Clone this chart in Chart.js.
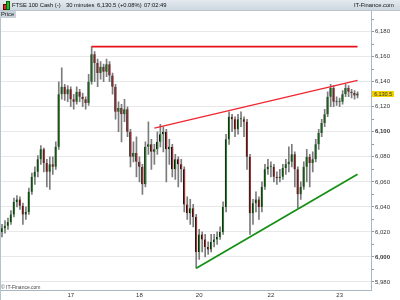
<!DOCTYPE html>
<html>
<head>
<meta charset="utf-8">
<script src="https://cdn.jsdelivr.net/npm/chart.js@4/dist/chart.umd.min.js"></script>
<style>
  html, body { margin: 0; padding: 0; background: #fff; }
  #wrap { position: relative; width: 400px; height: 300px; overflow: hidden; font-family: "Liberation Sans", Arial, sans-serif; }
  #chart { position: absolute; left: 0; top: 0; }
  #head { position: absolute; left: 0; top: 0; width: 400px; height: 10px; background: linear-gradient(#e4eaef, #cdd7df); border-bottom: 1px solid #b9c6d0; }
  #head span { position: absolute; top: 1px; font-size: 5.8px; line-height: 8px; color: #111; white-space: nowrap; }
  #price { position: absolute; left: 0; top: 11px; height: 7px; padding: 0 2px 0 1px; background: #c9d2da; font-size: 5.8px; line-height: 7px; color: #222; }
  #copy { position: absolute; left: 1px; top: 284px; font-size: 5px; line-height: 6px; color: #444; }
  #last { position: absolute; left: 372px; width: 22px; height: 6px; background: #f2d400; font-size: 5.4px; line-height: 6px; text-align: center; color: #333; }
  #edge { position: absolute; left: 0; top: 11px; width: 1px; height: 289px; background: #b5c2cc; }
  .ic { position: absolute; }
</style>
</head>
<body>
<div id="wrap">
  <canvas id="chart" width="400" height="300"></canvas>
  <div id="edge"></div>
  <div id="head">
    <div class="ic" style="left:3px;top:4px;width:2px;height:4px;background:#d03030;border:0.5px solid #600"></div>
    <div class="ic" style="left:6px;top:1px;width:2px;height:7px;background:#33b033;border:0.5px solid #060"></div>
    <span style="left:12px">FTSE 100 Cash (-)</span>
    <span style="left:66px">30 minutes</span>
    <span style="left:97px">6,130.5 (+0.08%)</span>
    <span style="left:144px">07:02:49</span>
    <span style="left:354px">IT-Finance.com</span>
  </div>
  <div id="price">Price</div>
  <div id="copy">© IT-Finance.com</div>
  <div id="last">6,130.5</div>
</div>
<script>
// 30 minute candles, FTSE 100 Cash
const opens = [
  6020, 6023, 6025, 6028, 6034, 6044, 6046, 6041, 6034, 6036,
  6052, 6064, 6068, 6078, 6086, 6075, 6068, 6074, 6072, 6088,
  6130, 6136, 6130, 6134, 6126, 6124, 6132, 6128, 6126, 6123,
  6140, 6162, 6155, 6147, 6152, 6148, 6154, 6145, 6136, 6116,
  6119, 6114, 6118, 6100, 6080, 6083, 6076, 6072, 6058, 6088,
  6090, 6084, 6086, 6092, 6098, 6100, 6086, 6088, 6070, 6078,
  6074, 6070, 6042, 6035, 6039, 6032, 6004, 6018, 6014, 6008,
  6006, 6012, 6014, 6016, 6020, 6040, 6094, 6112, 6110, 6102,
  6110, 6110, 6108, 6080, 6035, 6043, 6046, 6040, 6056, 6070,
  6072, 6072, 6064, 6063, 6064, 6071, 6074, 6076, 6082, 6070,
  6050, 6056, 6072, 6080, 6075, 6078, 6090, 6099, 6107, 6114,
  6128, 6135, 6124, 6124, 6124, 6130, 6135, 6132, 6131, 6129
];
const highs = [
  6026, 6029, 6031, 6037, 6047, 6049, 6048, 6043, 6040, 6055,
  6067, 6072, 6081, 6089, 6087, 6078, 6080, 6080, 6092, 6140,
  6151, 6138, 6137, 6136, 6130, 6136, 6134, 6131, 6128, 6146,
  6168, 6164, 6158, 6156, 6154, 6158, 6156, 6147, 6138, 6124,
  6122, 6126, 6120, 6102, 6092, 6096, 6080, 6074, 6092, 6108,
  6094, 6090, 6100, 6106, 6104, 6102, 6094, 6090, 6082, 6080,
  6078, 6072, 6048, 6046, 6042, 6034, 6022, 6020, 6018, 6012,
  6018, 6018, 6020, 6024, 6044, 6098, 6116, 6114, 6112, 6114,
  6116, 6112, 6110, 6082, 6046, 6052, 6048, 6060, 6074, 6078,
  6076, 6074, 6068, 6070, 6074, 6078, 6088, 6090, 6084, 6072,
  6060, 6076, 6086, 6082, 6084, 6094, 6102, 6110, 6118, 6132,
  6138, 6137, 6128, 6127, 6133, 6138, 6137, 6134, 6133, 6132
];
const lows = [
  6016, 6019, 6022, 6026, 6032, 6040, 6038, 6026, 6030, 6034,
  6050, 6058, 6064, 6074, 6068, 6056, 6054, 6066, 6070, 6086,
  6126, 6125, 6124, 6120, 6118, 6122, 6124, 6120, 6118, 6121,
  6138, 6140, 6136, 6142, 6140, 6144, 6140, 6130, 6110, 6100,
  6092, 6108, 6096, 6072, 6076, 6064, 6060, 6050, 6056, 6082,
  6070, 6074, 6082, 6088, 6084, 6060, 6074, 6064, 6062, 6056,
  6060, 6036, 6030, 6026, 6024, 5991, 5998, 6004, 6000, 6002,
  6004, 6008, 6010, 6014, 6018, 6036, 6090, 6100, 6096, 6098,
  6104, 6096, 6070, 6018, 6026, 6036, 6030, 6036, 6054, 6066,
  6064, 6060, 6058, 6060, 6062, 6066, 6068, 6072, 6056, 6039,
  6046, 6054, 6060, 6056, 6068, 6076, 6086, 6096, 6104, 6112,
  6120, 6120, 6121, 6120, 6122, 6128, 6128, 6127, 6126, 6127
];
const closes = [
  6023, 6025, 6028, 6034, 6044, 6046, 6041, 6034, 6036, 6052,
  6064, 6068, 6078, 6086, 6075, 6068, 6074, 6072, 6088, 6130,
  6136, 6130, 6134, 6126, 6124, 6132, 6128, 6126, 6123, 6140,
  6162, 6155, 6147, 6152, 6148, 6154, 6145, 6136, 6116, 6119,
  6114, 6118, 6100, 6080, 6083, 6076, 6072, 6058, 6088, 6090,
  6084, 6086, 6092, 6098, 6100, 6086, 6088, 6070, 6078, 6074,
  6070, 6042, 6035, 6039, 6032, 6004, 6018, 6014, 6008, 6006,
  6012, 6014, 6016, 6020, 6040, 6094, 6112, 6110, 6102, 6110,
  6110, 6108, 6080, 6035, 6043, 6046, 6040, 6056, 6070, 6072,
  6072, 6064, 6063, 6064, 6071, 6074, 6076, 6082, 6070, 6050,
  6056, 6072, 6080, 6075, 6078, 6090, 6099, 6107, 6114, 6128,
  6135, 6124, 6124, 6124, 6130, 6135, 6132, 6131, 6129, 6130.5
];

// day labels on the time axis and the candle they sit under
const dayLabels = ['17', '18', '20', '22', '23'];
const dayIndex = [23, 46, 66, 90, 113];
const emptySlots = 4;

// hand drawn trend lines: [start candle, start price, end candle, end price]
const resistance = [30, 6168, 119, 6168];
const upperTrend = [51, 6103, 119, 6141];
const lowerTrend = [65, 5991, 119, 6066];

const yMin = 5973.6;
const yMax = 6196.5;

const total = closes.length + emptySlots;
const labels = [];
for (let i = 0; i < total; i++) {
  const k = dayIndex.indexOf(i);
  labels.push(k >= 0 ? dayLabels[k] : '');
}

const wicks = lows.map((l, i) => [l, highs[i]]);
const bodies = opens.map((o, i) => [o, closes[i]]);
const bodyColors = opens.map((o, i) => (closes[i] >= o ? '#2a7f2a' : '#9c3434'));

function trendData(t) {
  const arr = new Array(total).fill(null);
  arr[t[0]] = t[1];
  arr[t[2]] = t[3];
  return arr;
}

const lastPricePlugin = {
  id: 'lastPrice',
  afterRender(chart) {
    const y = chart.scales.y.getPixelForValue(closes[closes.length - 1]);
    document.getElementById('last').style.top = Math.round(y - 3) + 'px';
  },
};

const fmt = (v) => v.toLocaleString('en-US');

new Chart(document.getElementById('chart'), {
  type: 'bar',
  data: {
    labels,
    datasets: [
      {
        type: 'line',
        data: trendData(resistance),
        borderColor: '#e8101a',
        borderWidth: 1.6,
        pointRadius: 0,
        spanGaps: true,
        order: 0,
      },
      {
        type: 'line',
        data: trendData(upperTrend),
        borderColor: '#f02630',
        borderWidth: 1.3,
        pointRadius: 0,
        spanGaps: true,
        order: 0,
      },
      {
        type: 'line',
        data: trendData(lowerTrend),
        borderColor: '#169016',
        borderWidth: 1.8,
        pointRadius: 0,
        spanGaps: true,
        order: 0,
      },
      {
        data: bodies,
        backgroundColor: bodyColors,
        borderColor: '#151515',
        borderWidth: { left: 1, right: 0, top: 0, bottom: 0 },
        borderSkipped: false,
        barThickness: 2,
        minBarLength: 1,
        grouped: false,
        order: 1,
      },
      {
        data: wicks,
        backgroundColor: '#7c7c7c',
        barThickness: 1,
        grouped: false,
        order: 2,
      },
    ],
  },
  options: {
    responsive: false,
    animation: false,
    layout: { padding: { top: 11, left: 0, right: 0, bottom: 0 } },
    plugins: { legend: { display: false }, tooltip: { enabled: false } },
    scales: {
      x: {
        grid: { display: false, drawTicks: false },
        border: { display: true, color: '#a9b7c2' },
        ticks: {
          autoSkip: false,
          maxRotation: 0,
          padding: 2,
          color: '#333',
          font: { family: 'Liberation Sans', size: 6 },
        },
        afterFit(scale) { scale.height = 10; },
      },
      y: {
        position: 'right',
        min: yMin,
        max: yMax,
        border: { display: true, color: '#a9b7c2' },
        grid: {
          color: (ctx) => (ctx.tick && ctx.tick.value % 20 === 0 ? '#e8e8e8' : 'rgba(0,0,0,0)'),
          tickColor: (ctx) => (ctx.tick && ctx.tick.value % 10 === 0 ? '#8a98a4' : 'rgba(0,0,0,0)'),
          tickLength: 3,
        },
        ticks: {
          stepSize: 10,
          padding: 1,
          color: '#333',
          font: (ctx) => ({
            family: 'Liberation Sans',
            size: 6,
            weight: ctx.tick && ctx.tick.value % 100 === 0 ? 'bold' : 'normal',
          }),
          callback: (v) => (v % 20 === 0 ? fmt(v) : ''),
        },
        afterFit(scale) { scale.width = 29; },
      },
    },
  },
  plugins: [lastPricePlugin],
});
</script>
</body>
</html>
